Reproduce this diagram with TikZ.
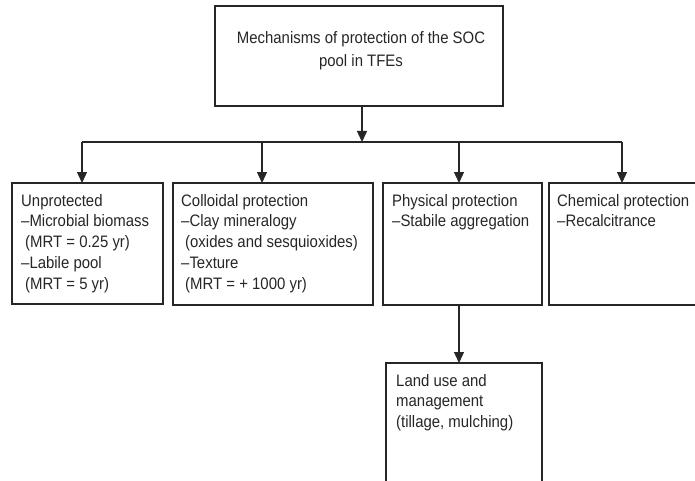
\documentclass[tikz,border=0pt]{standalone}
\usepackage{fontspec}
\setmainfont[FakeStretch=0.9]{Liberation Sans}
\usetikzlibrary{arrows.meta}
\begin{document}
\begin{tikzpicture}[x=1pt,y=-1pt,
  boxx/.style={draw=black!85,line width=1.2pt,inner sep=0pt},
  txt/.style={anchor=north west,inner sep=0pt,align=left,font=\fontsize{16.6}{20.7}\selectfont,text=black!85},
  conn/.style={draw=black!85,line width=1.3pt},
  arr/.style={conn,-{Triangle[width=10pt,length=11pt]}}]
\useasboundingbox (0,0) rectangle (695,481);
% boxes
\draw[boxx] (215,6) rectangle (503,106);
\node[inner sep=0pt] (top) at (359,56) {};
\coordinate (topS) at (362,106);
\draw[boxx] (12,183) rectangle (163,304);
\draw[boxx] (173,183) rectangle (373,305);
\draw[boxx] (383,183) rectangle (542,305);
\draw[boxx] (696,183) -- (549,183) -- (549,305) -- (696,305);
\draw[boxx] (386,485) -- (386,363) -- (542,363) -- (542,485);
% texts
\node[anchor=north,inner sep=0pt,align=center,font=\fontsize{16.6}{23.5}\selectfont,text=black!85] (toptext) at (361,31)
  {Mechanisms of protection of the SOC\\pool in TFEs};
\node[txt] (t1) at (21,194) {Unprotected\\–Microbial biomass\\\hspace{4pt}(MRT = 0.25 yr)\\–Labile pool\\\hspace{4pt}(MRT = 5 yr)};
\node[txt] (t2) at (181,194) {Colloidal protection\\–Clay mineralogy\\\hspace{4pt}(oxides and sesquioxides)\\–Texture\\\hspace{4pt}(MRT = + 1000 yr)};
\node[txt] (t3) at (392,194) {Physical protection\\–Stabile aggregation};
\node[txt] (t4) at (557,194) {Chemical protection\\–Recalcitrance};
\node[txt] (t5) at (396,374) {Land use and\\management\\(tillage, mulching)};
% anchor coordinates
\coordinate (bus) at (362,142);
\coordinate (busL) at (82,142);
\coordinate (busR) at (622,142);
\coordinate (b1) at (82,183);
\coordinate (b2) at (262,183);
\coordinate (b3) at (459,183);
\coordinate (b4) at (622,183);
\coordinate (b2t) at (262,142);
\coordinate (b3t) at (459,142);
\coordinate (b3s) at (459,305);
\coordinate (b5) at (459,363);
% connectors
\draw[arr] (topS) -- (bus);
\draw[conn] (busL) -- (busR);
\draw[arr] (busL) -- (b1);
\draw[arr] (b2t) -- (b2);
\draw[arr] (b3t) -- (b3);
\draw[arr] (busR) -- (b4);
\draw[arr] (b3s) -- (b5);
\end{tikzpicture}
\end{document}
